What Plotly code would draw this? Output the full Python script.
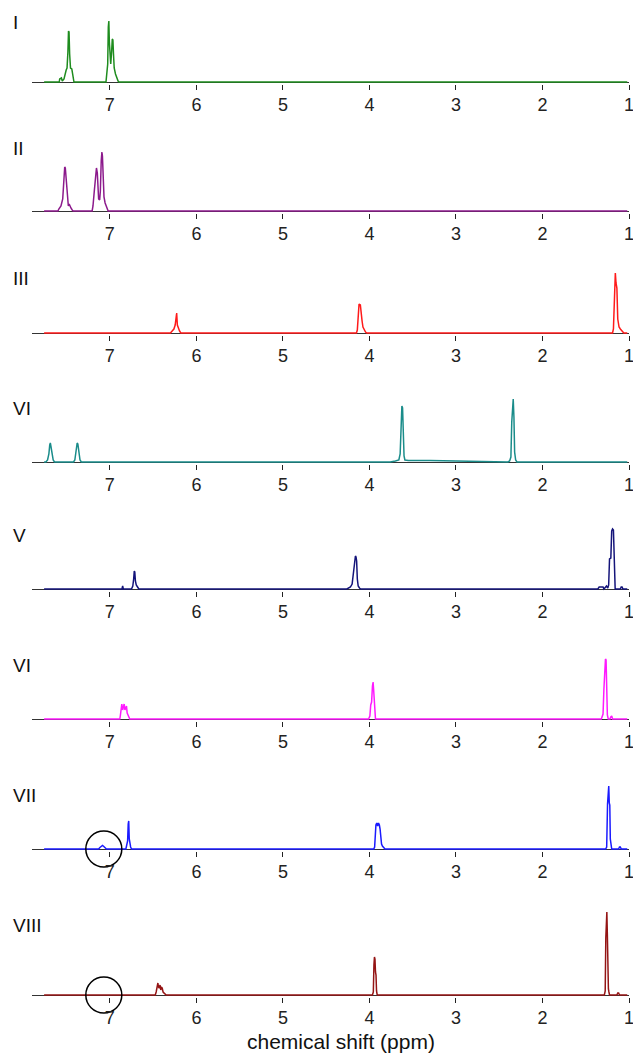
import plotly.graph_objects as go

# ---------------- data (ppm, intensity) ----------------
labels = ["I", "II", "III", "VI", "V", "VI", "VII", "VIII"]
colors = ["#1e8c1e", "#8c1a8c", "#ff1a1a", "#1a8c8a", "#14147a", "#ff1aff", "#1a1aff", "#941414"]

I_x = [7.76, 7.585, 7.58, 7.56, 7.55, 7.53, 7.505, 7.495, 7.485, 7.478, 7.472, 7.465, 7.455, 7.44, 7.425, 7.415,
       7.045, 7.035, 7.025, 7.018, 7.012, 7.006, 6.998, 6.99, 6.98, 6.972, 6.965, 6.958, 6.95, 6.935, 6.92, 6.905, 6.895, 1.02]
I_y = [0, 0, 3, 4, 1, 3, 12, 14, 30, 51, 50, 28, 14, 13, 4, 0,
       0, 8, 18, 55, 61, 40, 22, 18, 30, 43, 42, 28, 14, 8, 4, 1, 0, 0]

II_x = [7.76, 7.6, 7.59, 7.565, 7.545, 7.53, 7.522, 7.515, 7.505, 7.495, 7.48, 7.47, 7.46, 7.45, 7.435, 7.425,
        7.205, 7.195, 7.18, 7.165, 7.155, 7.145, 7.13, 7.118, 7.11, 7.1, 7.092, 7.086, 7.078, 7.068, 7.055, 7.04, 7.03, 7.02, 1.02]
II_y = [0, 0, 2, 5, 12, 40, 44, 43, 30, 14, 5, 7, 4, 3, 1, 0,
        0, 5, 20, 40, 43, 38, 12, 11, 20, 50, 59, 55, 30, 14, 8, 4, 2, 0, 0]

III_x = [7.76, 6.3, 6.28, 6.26, 6.245, 6.235, 6.228, 6.22, 6.21, 6.195, 6.18,
         4.15, 4.14, 4.13, 4.12, 4.105, 4.095, 4.085, 4.075, 4.06, 4.045, 4.03,
         1.19, 1.18, 1.172, 1.165, 1.158, 1.15, 1.14, 1.13, 1.115, 1.1, 1.08, 1.06, 1.02]
III_y = [0, 0, 2, 4, 8, 19, 20, 8, 5, 2, 0,
         0, 3, 25, 29, 28, 14, 12, 6, 3, 1, 0,
         0, 4, 30, 58, 60, 50, 45, 14, 6, 4, 2, 0, 0]

IV_x = [7.76, 7.74, 7.72, 7.705, 7.695, 7.688, 7.68, 7.67, 7.655, 7.64,
        7.42, 7.405, 7.39, 7.378, 7.37, 7.36, 7.345, 7.33,
        3.76, 3.7, 3.66, 3.645, 3.635, 3.625, 3.617, 3.61, 3.6, 3.59,
        3.55, 3.3, 3.0, 2.92, 2.6, 2.4,
        2.38, 2.365, 2.355, 2.345, 2.338, 2.33, 2.322, 2.31, 2.295, 1.02]
IV_y = [0, 0, 2, 8, 17, 19, 15, 8, 2, 0,
        0, 2, 10, 19, 18, 9, 2, 0,
        0, 1, 2, 8, 50, 56, 54, 20, 6, 2,
        1.5, 1.5, 1.2, 0.6, 0.4, 0,
        1, 5, 40, 62, 63, 45, 10, 2, 0, 0]

V_x = [7.76, 6.86, 6.852, 6.845, 6.75, 6.735, 6.725, 6.718, 6.712, 6.705, 6.695, 6.68, 6.665,
       4.26, 4.22, 4.2, 4.19, 4.18, 4.17, 4.162, 4.155, 4.148, 4.14, 4.13, 4.115, 4.1,
       1.36, 1.345, 1.33, 1.3, 1.29, 1.27, 1.26, 1.245, 1.235, 1.225, 1.21, 1.2, 1.19, 1.18, 1.17, 1.165, 1.16,
       1.1, 1.09, 1.08, 1.07, 1.02]
V_y = [0, 0, 3, 0, 0, 3, 10, 18, 17, 8, 4, 2, 0,
       0, 2, 5, 14, 16, 30, 33, 32, 28, 10, 3, 1, 0,
       0, 2, 2, 2, 0, 2, 3, 1, 4, 30, 31, 58, 60, 59, 30, 4, 0,
       0, 2, 2, 0, 0]

VI_x = [7.76, 6.885, 6.878, 6.87, 6.862, 6.852, 6.843, 6.835, 6.826, 6.818, 6.808, 6.8, 6.792, 6.78, 6.77,
        4.01, 4.0, 3.995, 3.985, 3.975, 3.965, 3.958, 3.952, 3.945, 3.938, 3.93,
        1.32, 1.31, 1.3, 1.29, 1.28, 1.272, 1.265, 1.258, 1.25, 1.24,
        1.22, 1.21, 1.2, 1.19, 1.02]
VI_y = [0, 0, 4, 14, 15, 9, 13, 15, 9, 12, 13, 6, 4, 1, 0,
        0, 2, 3, 14, 17, 33, 37, 30, 15, 3, 0,
        0, 2, 5, 30, 55, 60, 59, 30, 4, 0,
        0, 2, 3, 0, 0]

VII_x = [7.76, 7.13, 7.115, 7.1, 7.085, 7.07, 7.055, 7.04,
         6.815, 6.805, 6.795, 6.788, 6.782, 6.776, 6.77, 6.76, 6.75,
         3.95, 3.94, 3.932, 3.925, 3.915, 3.905, 3.895, 3.885, 3.877, 3.87, 3.86, 3.85, 3.835, 3.82,
         1.27, 1.258, 1.248, 1.24, 1.234, 1.228, 1.222, 1.216, 1.208, 1.2,
         1.12, 1.11, 1.1, 1.09, 1.02]
VII_y = [0, 0, 1.5, 3, 3.5, 2.5, 1, 0,
         0, 3, 8, 25, 28, 10, 6, 2, 0,
         0, 2, 20, 24, 26, 23, 26, 24, 20, 8, 5, 3, 1, 0,
         0, 2, 45, 62, 63, 46, 44, 10, 3, 0,
         0, 2, 2, 0, 0]

VIII_x = [7.76, 6.475, 6.465, 6.452, 6.445, 6.438, 6.43, 6.42, 6.412, 6.405, 6.395, 6.385, 6.375, 6.36, 6.35,
          3.965, 3.955, 3.948, 3.942, 3.936, 3.93, 3.924, 3.918, 3.91,
          1.285, 1.275, 1.268, 1.262, 1.256, 1.25, 1.244, 1.238, 1.232, 1.225,
          1.14, 1.13, 1.12, 1.11, 1.02]
VIII_y = [0, 0, 3, 8, 12, 8, 7, 10, 5, 8, 7, 3, 2, 1, 0,
          0, 3, 30, 38, 36, 23, 20, 4, 0,
          0, 4, 57, 80, 83, 60, 10, 6, 3, 0,
          0, 2, 2, 0, 0]

spectra_x = [I_x, II_x, III_x, IV_x, V_x, VI_x, VII_x, VIII_x]
spectra_y = [I_y, II_y, III_y, IV_y, V_y, VI_y, VII_y, VIII_y]

tick_vals = [7, 6, 5, 4, 3, 2, 1]
tick_text = ["7", "6", "5", "4", "3", "2", "1"]
x_range = [7.9, 1.0]
circled_panels = [6, 7]     # panels VII and VIII (0-based)
circle_ppm = 7.07

# ---------------- layout geometry (pixels) ----------------
W, H = 633, 1058
baselines = [82, 211, 333, 462, 589, 719, 849, 995]
panel_tops = [70.5] * 7 + [90]
label_px = [23, 148, 278, 408, 535, 665, 795, 925]
x_left, x_right = 32, 629
FONT = "Liberation Sans, Arial, Helvetica, sans-serif"

fig = go.Figure()
layout = dict(width=W, height=H, margin=dict(l=0, r=0, t=0, b=0, autoexpand=False),
              paper_bgcolor="white", plot_bgcolor="white", showlegend=False,
              font=dict(family=FONT, color="#111"))
annotations = []

for i in range(8):
    assert len(spectra_x[i]) == len(spectra_y[i]), i
    n = "" if i == 0 else str(i + 1)
    xa, ya = "x" + n, "y" + n
    fig.add_trace(go.Scatter(x=spectra_x[i], y=spectra_y[i], mode="lines",
                             line=dict(color=colors[i], width=1.5),
                             xaxis=xa, yaxis=ya, hoverinfo="skip"))
    if i in circled_panels:
        fig.add_trace(go.Scatter(x=[circle_ppm], y=[0], mode="markers",
                                 marker=dict(symbol="circle-open", size=36,
                                             line=dict(color="black", width=1.5),
                                             color="black"),
                                 cliponaxis=False, xaxis=xa, yaxis=ya, hoverinfo="skip"))
    b = baselines[i]
    y0 = 1 - (b + 1.5) / H
    y1 = 1 - (b - panel_tops[i]) / H
    layout["xaxis" + n] = dict(domain=[x_left / W, x_right / W], range=x_range,
                               anchor=ya, showgrid=False, zeroline=False, showline=False,
                               automargin=False,
                               ticks="outside", ticklen=5, tickwidth=1, tickcolor="#222",
                               tickvals=tick_vals, ticktext=tick_text,
                               ticklabeloverflow="allow",
                               tickfont=dict(size=18, color="#222", family=FONT))
    layout["yaxis" + n] = dict(domain=[y0, y1], range=[-1.5, panel_tops[i]],
                               anchor=xa, showgrid=False, showticklabels=False, ticks="",
                               showline=False, zeroline=True, zerolinecolor="#333",
                               zerolinewidth=1.2, automargin=False)
    annotations.append(dict(text=labels[i], xref="paper", yref="paper",
                            x=11 / W, y=1 - label_px[i] / H, xanchor="left", yanchor="middle",
                            showarrow=False, font=dict(size=19, color="#111", family=FONT)))

annotations.append(dict(text="chemical shift (ppm)", xref="paper", yref="paper",
                        x=341 / W, y=1 - 1041 / H, xanchor="center", yanchor="middle",
                        showarrow=False, font=dict(size=21, color="#111", family=FONT)))
layout["annotations"] = annotations
fig.update_layout(**layout)
fig.write_html("out.html")
